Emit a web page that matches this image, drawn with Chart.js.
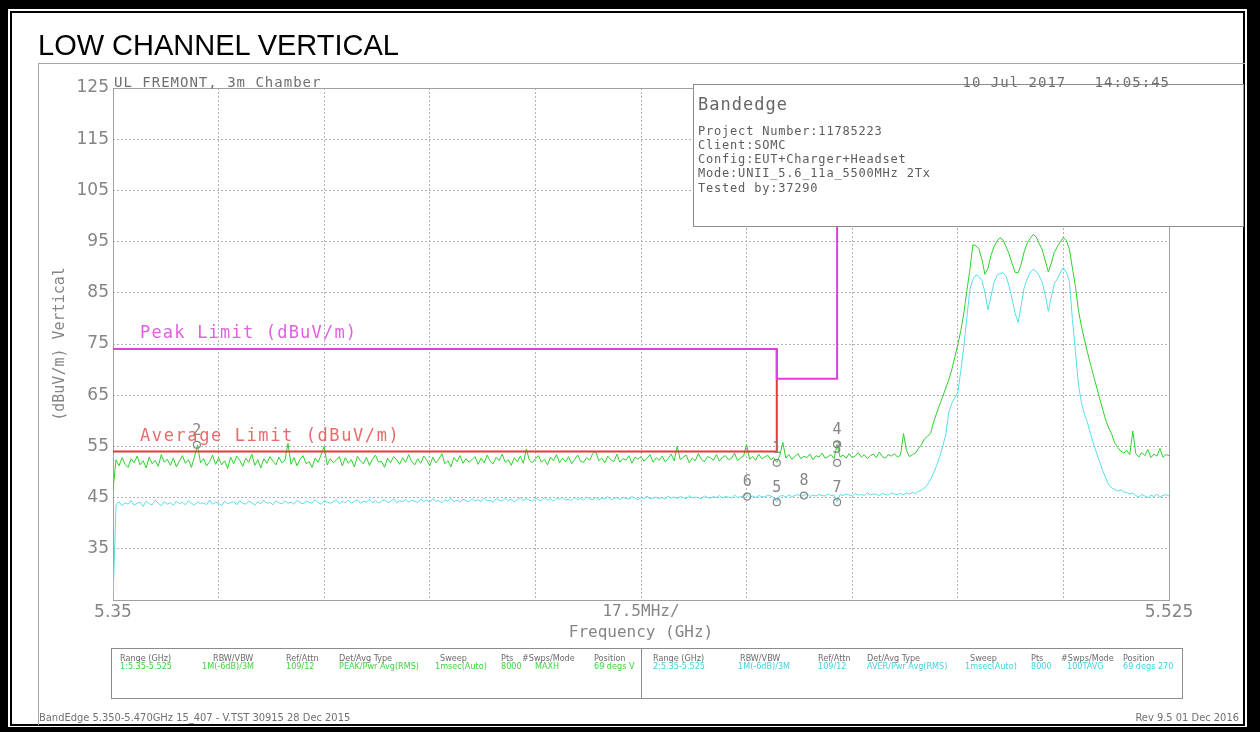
<!DOCTYPE html>
<html><head><meta charset="utf-8">
<title>LOW CHANNEL VERTICAL</title>
<script src="https://cdn.jsdelivr.net/npm/chart.js@4.4.1/dist/chart.umd.min.js"></script>
<style>
html,body{margin:0;padding:0;background:#fff}
body{position:relative;width:1260px;height:732px;overflow:hidden}
.abs{position:absolute;white-space:pre}
#outer{position:absolute;left:0;top:0;width:1260px;height:732px;box-sizing:border-box;border-style:solid;border-color:#000;border-width:9px 13px 5px 8px}
#inner{position:absolute;left:10px;top:11px;width:1235px;height:715px;box-sizing:border-box;border:2px solid #000}
#screen{position:absolute;left:38px;top:63px;width:1207px;height:662px;box-sizing:border-box;border-top:1px solid #a8a8a8;border-left:1px solid #a8a8a8}
#cv{position:absolute;left:0;top:0}
#info{position:absolute;left:693px;top:84px;width:551px;height:143px;box-sizing:border-box;border:1px solid #8c8c8c;background:#fff}
#tbl{position:absolute;left:111px;top:648px;width:1072px;height:51px;box-sizing:border-box;border:1px solid #8c8c8c}
#tdiv{position:absolute;left:641px;top:648px;width:1px;height:51px;background:#8c8c8c}
</style></head>
<body>
<div id="outer"></div><div id="inner"></div><div id="screen"></div>
<canvas id="cv" width="1260" height="732"></canvas>
<div id="info"></div><div id="tbl"></div><div id="tdiv"></div>
<div id="texts"></div>
<script>
// ---- sweep ----
const sweepStartGHz = 5.35;
const sweepStopGHz = 5.525;

// Trace 1: PEAK / MAXH (dBuV/m), 351 sweep points
const peakTrace = [
46.5,52.4,51.2,52.8,51.5,50.9,52.6,51.8,53.1,51.4,52.2,50.8,52.9,51.6,52.3,51.1,53.4,51.9,52.5,51.3,
52.7,51.0,52.1,53.2,51.7,52.4,50.9,53.0,55.3,51.8,52.6,51.2,52.0,53.3,51.5,52.8,51.4,52.2,50.7,52.9,
51.6,53.1,52.3,51.1,52.7,51.9,53.5,51.3,52.4,50.8,52.6,51.7,53.0,52.1,51.4,52.9,51.8,52.3,55.6,51.5,
52.8,51.2,52.5,53.2,51.6,52.0,50.9,52.7,51.9,53.4,55.0,51.4,52.6,51.8,52.3,53.0,51.2,52.8,51.7,52.4,
51.0,53.1,52.2,51.6,52.9,51.3,52.5,53.3,51.9,52.1,50.9,52.7,51.8,53.0,52.4,51.5,52.8,51.9,53.4,52.0,
51.4,52.6,51.7,53.1,52.3,51.2,52.9,51.8,52.5,53.6,51.6,52.2,51.0,52.8,52.0,53.2,51.7,52.6,51.9,52.4,
53.0,51.5,52.7,51.8,53.3,52.1,51.6,52.9,52.2,53.5,51.9,52.4,51.3,52.8,52.0,53.1,51.7,54.5,52.3,51.8,
52.6,53.2,51.9,52.5,51.4,52.9,52.2,53.4,51.8,52.7,52.0,53.0,51.6,52.4,53.3,52.1,51.9,52.8,52.3,53.6,
54.0,52.2,52.7,51.8,53.1,52.4,52.0,53.5,51.9,52.6,52.3,53.2,51.7,52.9,52.5,53.0,52.1,52.7,53.4,51.9,
52.8,52.3,53.1,52.0,52.6,53.5,52.2,55.0,52.4,52.9,53.3,51.8,52.7,52.2,53.6,52.5,52.0,53.0,52.8,52.3,
53.4,52.1,52.9,53.2,52.4,52.7,53.7,52.2,52.8,53.1,55.4,52.5,53.0,52.3,53.5,52.6,52.9,53.3,52.4,52.8,
51.9,53.2,55.8,52.7,53.4,52.5,53.0,53.6,52.6,53.1,52.8,53.5,52.4,53.2,52.9,53.7,52.7,53.0,53.4,52.6,
55.4,52.9,53.3,52.7,53.6,52.8,53.1,53.8,52.9,53.4,52.6,53.2,53.5,52.8,53.9,53.0,52.7,53.4,53.1,53.6,
52.9,53.3,57.5,54.2,53.0,53.4,53.7,54.6,55.4,56.5,57.0,57.6,59.8,61.5,63.2,64.7,66.4,68.0,70.0,72.4,
74.9,77.6,81.0,85.4,89.5,94.4,94.2,93.6,91.5,88.6,89.8,92.3,94.0,95.1,95.8,95.3,94.0,92.6,90.7,89.0,
88.9,90.6,93.0,94.7,95.6,96.4,95.9,94.6,93.4,91.2,89.1,90.8,92.9,94.0,95.0,95.8,95.2,93.5,89.8,86.2,
81.5,78.4,75.8,73.3,71.0,68.8,66.6,64.4,62.3,60.2,58.6,57.4,55.7,54.8,54.1,53.7,54.2,53.4,58.0,53.6,
52.9,53.8,53.2,54.4,52.8,53.5,53.1,54.6,52.9,53.4,53.2
];

// Trace 2: AVER / 100 averages (dBuV/m), 351 sweep points
const avgTrace = [
25.0,43.6,44.2,43.4,44.0,43.7,44.4,43.5,43.9,44.1,43.3,44.3,43.8,43.6,44.5,43.9,43.4,44.2,43.7,44.0,
43.5,44.3,43.8,44.1,43.6,44.4,43.9,43.5,44.2,43.8,44.0,43.6,44.5,43.7,44.1,43.9,43.4,44.3,43.8,44.0,
44.2,43.6,44.4,43.9,43.7,44.3,44.0,43.5,44.2,43.8,44.5,43.9,44.1,43.6,44.4,44.0,43.8,44.3,43.9,44.1,
43.7,44.5,44.0,43.8,44.3,44.1,43.9,44.6,44.0,43.7,44.4,44.1,43.9,44.2,44.6,43.8,44.3,44.0,44.5,43.9,
44.2,44.6,43.9,44.3,44.1,44.7,44.0,44.4,43.9,44.3,44.6,44.1,44.2,44.8,44.0,44.4,44.2,44.6,44.1,44.5,
44.3,44.0,44.7,44.2,44.5,44.1,44.8,44.3,44.4,44.0,44.6,44.3,44.9,44.2,44.5,44.1,44.7,44.4,44.2,44.8,
44.3,44.6,44.2,44.9,44.4,44.5,44.1,44.8,44.5,44.3,44.9,44.4,44.7,44.2,44.6,45.0,44.4,44.8,44.5,44.3,
44.9,44.6,44.4,45.0,44.5,44.8,44.3,44.9,44.6,45.1,44.5,44.7,44.4,45.0,44.6,44.9,44.5,45.1,44.7,44.6,
45.0,44.5,44.9,44.7,45.2,44.6,44.8,45.0,44.6,45.1,44.8,44.7,45.2,44.9,44.6,45.0,44.8,45.3,44.7,44.9,
45.1,44.8,45.0,44.7,45.3,44.9,45.1,44.8,45.2,45.0,44.8,45.4,44.9,45.1,45.0,44.8,45.3,45.0,44.9,45.2,
45.0,45.4,44.9,45.2,45.1,44.9,45.5,45.0,45.2,45.3,45.6,45.1,45.3,45.0,45.4,45.2,45.1,45.5,45.3,45.0,
44.2,45.3,45.4,45.1,45.5,45.2,45.4,45.6,45.3,45.4,45.8,45.2,45.5,45.3,45.6,45.4,45.3,45.7,45.4,45.5,
44.2,45.6,45.4,45.7,45.5,45.3,45.8,45.5,45.6,45.4,45.9,45.5,45.7,45.6,45.4,45.8,45.6,45.5,45.9,45.7,
45.6,45.8,45.5,45.9,45.7,46.0,45.8,46.2,46.5,46.9,47.6,48.6,49.8,51.3,53.0,55.0,57.2,61.6,63.4,64.5,
65.5,69.8,74.5,80.2,85.6,87.6,88.5,88.2,87.4,85.0,81.7,84.3,87.0,88.4,88.8,88.9,88.2,86.3,83.8,81.0,
79.2,82.5,86.0,87.7,89.0,89.6,89.2,88.3,87.0,84.6,81.4,84.2,86.8,87.7,89.0,89.9,89.0,87.2,79.8,73.5,
67.0,63.5,61.2,59.6,57.4,55.5,53.7,52.0,50.3,48.9,47.5,46.9,46.6,46.3,46.5,46.1,46.0,45.7,45.9,45.4,
45.1,45.6,45.3,45.0,45.5,45.2,45.7,45.1,45.4,45.6,45.3
];

// Limit lines
const peakLimitFreqs  = [5.35, 5.46, 5.46, 5.47, 5.47];
const peakLimitLevels = [74, 74, 68.2, 68.2, 125];
const avgLimitFreqs   = [5.35, 5.46, 5.46];
const avgLimitLevels  = [54, 54, 74];

// Markers
const markerIds    = ['1','2','3','4','5','6','7','8'];
const markerFreqs  = [5.46, 5.3639, 5.47, 5.47, 5.46, 5.4551, 5.47, 5.4645];
const markerLevels = [51.8, 55.3, 51.8, 55.4, 44.1, 45.2, 44.1, 45.4];

// Axes
const xTickValues = [5.35, 5.3675, 5.385, 5.4025, 5.42, 5.4375, 5.455, 5.4725, 5.49, 5.5075, 5.525];
const xTickLabels = ['5.35','','','','','17.5MHz/','','','','','5.525'];
const yTickValues = [25, 35, 45, 55, 65, 75, 85, 95, 105, 115, 125];
const yTickLabels = ['', '35', '45', '55', '65', '75', '85', '95', '105', '115', '125'];

// Texts
const titleText = 'LOW CHANNEL VERTICAL';
const siteText = 'UL FREMONT, 3m Chamber';
const dateText = '10 Jul 2017   14:05:45';
const infoTitle = 'Bandedge';
const infoLines = ['Project Number:11785223','Client:SOMC','Config:EUT+Charger+Headset','Mode:UNII_5.6_11a_5500MHz 2Tx','Tested by:37290'];
const peakLimitLabel = 'Peak Limit (dBuV/m)';
const avgLimitLabel = 'Average Limit (dBuV/m)';
const tableHeaders = ['Range (GHz)','RBW/VBW','Ref/Attn','Det/Avg Type','Sweep','Pts','#Swps/Mode','Position'];
const trace1Settings = ['1:5.35-5.525','1M(-6dB)/3M','109/12','PEAK/Pwr Avg(RMS)','1msec(Auto)','8000','MAXH','69 degs V'];
const trace2Settings = ['2:5.35-5.525','1M(-6dB)/3M','109/12','AVER/Pwr Avg(RMS)','1msec(Auto)','8000','100TAVG','69 degs 270'];
const footerLeft = 'BandEdge 5.350-5.470GHz 15_407 - V.TST 30915 28 Dec 2015';
const footerRight = 'Rev 9.5 01 Dec 2016';

// ---- overlay text helper ----
const FAM = {
  lib: ['"Liberation Sans", Arial, sans-serif', 0.905],
  mono: ['"DejaVu Sans Mono", monospace', 0.928],
  cond: ['"DejaVu Sans Condensed", "Liberation Sans Narrow", "DejaVu Sans", sans-serif', 0.928]
};
const textLayer = document.getElementById('texts');
function addText(txt, x, base, size, fam, color, opts) {
  opts = opts || {};
  const d = document.createElement('div');
  d.className = 'abs';
  d.textContent = txt;
  d.style.font = size + 'px ' + FAM[fam][0];
  d.style.lineHeight = 'normal';
  d.style.color = color;
  d.style.top = (base - FAM[fam][1] * size) + 'px';
  if (opts.right != null) d.style.right = (1260 - opts.right) + 'px'; else d.style.left = x + 'px';
  if (opts.ls) d.style.letterSpacing = opts.ls + 'px';
  textLayer.appendChild(d);
}

addText(titleText, 38, 55, 29, 'lib', '#000');
addText(siteText, 114, 87, 14, 'mono', '#707070', {ls: 1});
addText(dateText, 0, 87, 14, 'mono', '#707070', {ls: 1, right: 1170});
addText(infoTitle, 698, 110, 17, 'mono', '#666', {ls: 1});
infoLines.forEach((t, i) => addText(t, 698, 135 + i * 14.2, 12, 'mono', '#5c5c5c', {ls: 0.8}));
addText(peakLimitLabel, 140, 338, 17, 'mono', '#e060e0', {ls: 1.2});
addText(avgLimitLabel, 140, 441, 17, 'mono', '#ea6a6a', {ls: 1.6});

const colL_h = [120, 213, 286, 339, 440, 501, 522, 594];
const colL_v = [120, 202, 286, 339, 435, 501, 535, 594];
const colR_h = [653, 740, 818, 867, 970, 1031, 1061, 1123];
const colR_v = [653, 738, 818, 867, 965, 1031, 1067, 1123];
tableHeaders.forEach((t, i) => { addText(t, colL_h[i], 661, 9, 'cond', '#6a6a6a'); addText(t, colR_h[i], 661, 9, 'cond', '#6a6a6a'); });
trace1Settings.forEach((t, i) => addText(t, colL_v[i], 669, 9, 'cond', '#3cd63c'));
trace2Settings.forEach((t, i) => addText(t, colR_v[i], 669, 9, 'cond', '#3ed3df'));
addText(footerLeft, 39, 721, 11, 'cond', '#707070');
addText(footerRight, 0, 721, 11, 'cond', '#707070', {right: 1239});

// ---- chart ----
const toSweep = arr => arr.map((v, i) => ({x: sweepStartGHz + i * (sweepStopGHz - sweepStartGHz) / (arr.length - 1), y: v}));
const toPairs = (fs, ls) => fs.map((f, i) => ({x: f, y: ls[i]}));

const overlayPlugin = {
  id: 'overlay',
  beforeDatasetsDraw(chart) {
    const {ctx, chartArea: a} = chart;
    ctx.save();
    ctx.strokeStyle = '#a0a0a0';
    ctx.lineWidth = 1;
    ctx.strokeRect(Math.round(a.left) + 0.5, Math.round(a.top) + 0.5, Math.round(a.right - a.left), Math.round(a.bottom - a.top));
    ctx.restore();
  },
  afterDatasetsDraw(chart) {
    const {ctx, scales} = chart;
    ctx.save();
    ctx.font = '15px "DejaVu Sans Mono", monospace';
    ctx.fillStyle = '#858585';
    ctx.textAlign = 'center';
    ctx.textBaseline = 'middle';
    markerIds.forEach((id, i) => {
      const x = scales.x.getPixelForValue(markerFreqs[i]);
      const y = scales.y.getPixelForValue(markerLevels[i]);
      ctx.fillText(id, x, y - 14);
    });
    ctx.restore();
  }
};

new Chart(document.getElementById('cv'), {
  type: 'line',
  data: {
    datasets: [
      {label: 'Trace 2 AVER', data: toSweep(avgTrace), borderColor: '#55dfe9', borderWidth: 1, pointRadius: 0, order: 4},
      {label: 'Trace 1 PEAK', data: toSweep(peakTrace), borderColor: '#2cd22c', borderWidth: 1, pointRadius: 0, order: 3},
      {label: 'Average Limit', data: toPairs(avgLimitFreqs, avgLimitLevels), borderColor: '#e33a3a', borderWidth: 2, pointRadius: 0, order: 2},
      {label: 'Peak Limit', data: toPairs(peakLimitFreqs, peakLimitLevels), borderColor: '#de3fde', borderWidth: 2, pointRadius: 0, order: 1},
      {type: 'scatter', label: 'Markers', data: toPairs(markerFreqs, markerLevels), pointStyle: 'circle', pointRadius: 3.5,
       borderColor: '#858585', backgroundColor: 'rgba(255,255,255,0)', borderWidth: 1.2, order: 0}
    ]
  },
  options: {
    responsive: false,
    animation: false,
    devicePixelRatio: 1,
    layout: {padding: {left: 0, top: 88, right: 91, bottom: 90}},
    elements: {line: {tension: 0, fill: false}},
    plugins: {legend: {display: false}, tooltip: {enabled: false}},
    scales: {
      x: {
        type: 'linear', min: sweepStartGHz, max: sweepStopGHz,
        afterBuildTicks: s => { s.ticks = xTickValues.map(v => ({value: v})); },
        afterFit: s => { s.height = 42; },
        grid: {color: c => (c.index === 0 || c.index === xTickValues.length - 1) ? 'rgba(0,0,0,0)' : '#b3b3b3', drawTicks: false, lineWidth: 1},
        border: {display: false, dash: [2, 2]},
        ticks: {
          autoSkip: false, maxRotation: 0, padding: 2, color: '#858585',
          font: c => c.index === 5 ? {family: '"DejaVu Sans Mono", monospace', size: 16} : {family: '"DejaVu Sans", sans-serif', size: 17},
          callback: (v, i) => xTickLabels[i]
        },
        title: {display: true, text: 'Frequency (GHz)', color: '#858585', font: {family: '"DejaVu Sans Mono", monospace', size: 16}, padding: {top: 0, bottom: 0}}
      },
      y: {
        min: 25, max: 125,
        afterBuildTicks: s => { s.ticks = yTickValues.map(v => ({value: v})); },
        afterFit: s => { s.width = 113; },
        grid: {color: c => (c.index === 0 || c.index === yTickValues.length - 1) ? 'rgba(0,0,0,0)' : '#b3b3b3', drawTicks: false, lineWidth: 1},
        border: {display: false, dash: [2, 2]},
        ticks: {autoSkip: false, padding: 4, color: '#858585', font: {family: '"DejaVu Sans", sans-serif', size: 17}, callback: (v, i) => yTickLabels[i]},
        title: {display: true, text: '(dBuV/m) Vertical', color: '#858585', font: {family: '"DejaVu Sans Mono", monospace', size: 15}, padding: {top: 51, bottom: 0}}
      }
    }
  },
  plugins: [overlayPlugin]
});
</script>
</body></html>
